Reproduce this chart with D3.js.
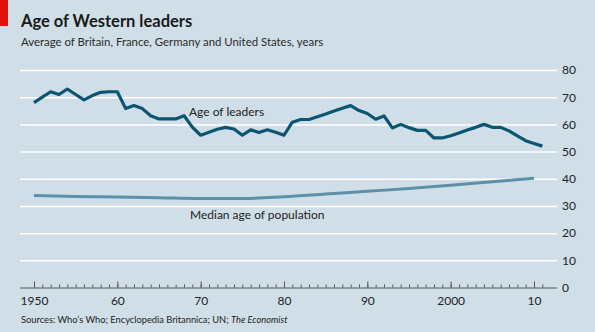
<!DOCTYPE html>
<html>
<head>
<meta charset="utf-8">
<script src="https://cdn.jsdelivr.net/npm/d3@7"></script>
<style>
  body { margin: 0; background: #cfdee7; }
  svg { display: block; font-family: Lato, "Open Sans", sans-serif; }
</style>
</head>
<body>
<div id="chart"></div>
<script>
// Data
const leaderYears = d3.range(1950, 2012);
const leaderAge = [
  68, 70, 72, 71, 73, 71, 69, 70.6, 71.8, 72,
  72, 65.8, 66.9, 65.8, 63.2, 62, 62, 62, 63.2, 59,
  56, 57.1, 58.2, 58.9, 58.3, 56, 58, 57, 58, 57.1,
  56, 60.8, 61.8, 61.8, 62.8, 63.8, 64.9, 65.9, 66.9, 65.1,
  64, 61.9, 63.1, 58.7, 60, 58.8, 57.8, 57.8, 55, 55,
  55.8, 56.8, 57.9, 58.9, 60, 58.9, 58.9, 57.6, 55.8, 54,
  53, 52
];
const medianYears = [1950, 1955, 1960, 1965, 1970, 1975, 1980, 1985, 1990, 1995, 2000, 2005, 2010];
const medianAge = [33.8, 33.5, 33.3, 33.0, 32.7, 32.7, 33.4, 34.4, 35.4, 36.4, 37.6, 38.9, 40.2];
const yTicks = [0, 10, 20, 30, 40, 50, 60, 70, 80];
const xMajor = [1950, 1960, 1970, 1980, 1990, 2000, 2010];
const xLabels = ["1950", "60", "70", "80", "90", "2000", "10"];

// Dimensions
const W = 595, H = 332;
const plotLeft = 20, plotRight = 557;

const svg = d3.select("#chart").append("svg")
    .attr("width", W)
    .attr("height", H);

svg.append("rect").attr("width", W).attr("height", H).attr("fill", "#cfdee7");

// Red tag
svg.append("rect")
    .attr("x", 0).attr("y", 0)
    .attr("width", 8).attr("height", 26)
    .attr("fill", "#e3120b");

// Title and subtitle
svg.append("text")
    .attr("x", 21).attr("y", 27)
    .style("font-size", "16.5px")
    .style("font-weight", "bold")
    .attr("fill", "#1a1a1a")
    .text("Age of Western leaders");

svg.append("text")
    .attr("x", 21).attr("y", 46)
    .style("font-size", "11.4px")
    .attr("fill", "#2b2b2b")
    .text("Average of Britain, France, Germany and United States, years");

// Scales
const x = d3.scaleLinear().domain([1950, 2010]).range([34, 534]);
const y = d3.scaleLinear().domain([0, 80]).range([287.5, 70]);

// Gridlines + right-hand labels
const yAxis = svg.append("g")
    .attr("transform", `translate(${plotRight},0)`)
    .call(d3.axisRight(y)
        .tickValues(yTicks)
        .tickSize(-(plotRight - plotLeft))
        .tickPadding(5)
        .tickFormat(d3.format("d")));
yAxis.select(".domain").remove();
yAxis.selectAll("line")
    .attr("stroke", d => d === 0 ? "#555" : "#ffffff")
    .attr("stroke-width", d => d === 0 ? 1 : 1.5);
yAxis.selectAll("text")
    .style("font-size", "12px")
    .style("font-family", "Lato, sans-serif")
    .attr("fill", "#222");

// Year ticks pointing up from the baseline
const minorTicks = svg.append("g")
    .attr("transform", `translate(0,${y(0)})`)
    .call(d3.axisTop(x).tickValues(d3.range(1950, 2012)).tickSize(3).tickFormat(""));
minorTicks.select(".domain").remove();
minorTicks.selectAll("line").attr("stroke", "#555");

const majorTicks = svg.append("g")
    .attr("transform", `translate(0,${y(0)})`)
    .call(d3.axisTop(x).tickValues(xMajor).tickSize(6).tickFormat(""));
majorTicks.select(".domain").remove();
majorTicks.selectAll("line").attr("stroke", "#555");

// Year labels
const xAxis = svg.append("g")
    .attr("transform", `translate(0,${y(0)})`)
    .call(d3.axisBottom(x)
        .tickValues(xMajor)
        .tickSize(0)
        .tickPadding(9)
        .tickFormat((d, i) => xLabels[i]));
xAxis.select(".domain").remove();
xAxis.selectAll("text")
    .style("font-size", "12px")
    .style("font-family", "Lato, sans-serif")
    .attr("fill", "#222");

// Lines
const median = medianYears.map((yr, i) => ({ year: yr, value: medianAge[i] }));
const leaders = leaderYears.map((yr, i) => ({ year: yr, value: leaderAge[i] }));

svg.append("path")
    .datum(median)
    .attr("fill", "none")
    .attr("stroke", "#5d90a8")
    .attr("stroke-width", 3)
    .attr("d", d3.line().x(d => x(d.year)).y(d => y(d.value)).curve(d3.curveMonotoneX));

svg.append("path")
    .datum(leaders)
    .attr("fill", "none")
    .attr("stroke", "#0b5573")
    .attr("stroke-width", 3.2)
    .attr("stroke-linejoin", "round")
    .attr("d", d3.line().x(d => x(d.year)).y(d => y(d.value)));

// Line labels
svg.append("text")
    .attr("x", 189).attr("y", 116)
    .style("font-size", "12px")
    .attr("fill", "#222")
    .text("Age of leaders");

svg.append("text")
    .attr("x", 190).attr("y", 219)
    .style("font-size", "12px")
    .attr("fill", "#222")
    .text("Median age of population");

// Sources
const src = svg.append("text")
    .attr("x", 21).attr("y", 323)
    .style("font-size", "9.3px")
    .attr("fill", "#222");
src.append("tspan").text("Sources: Who\u2019s Who; Encyclopedia Britannica; UN; ");
src.append("tspan").style("font-style", "italic").text("The Economist");
</script>
</body>
</html>
